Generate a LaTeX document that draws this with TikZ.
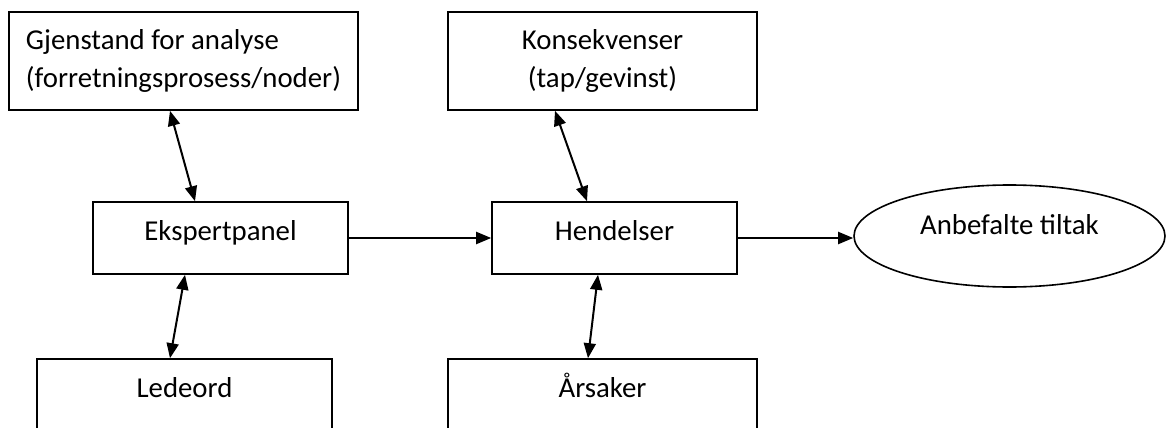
\documentclass[tikz,border=0pt]{standalone}
\usepackage{fontspec}
\setmainfont{Carlito}
\usetikzlibrary{shapes.geometric,arrows.meta,calc}

\begin{document}
\begin{tikzpicture}[x=1pt,y=-1pt,line width=2pt,>={Triangle[length=15pt,width=12pt]},font=\fontsize{28.8}{38}\selectfont]
  \tikzstyle{box}=[rectangle,draw,line width=1.6pt,inner sep=0pt,minimum height=72pt,text height=20pt,text depth=14.6pt]
  \tikzstyle{tallbox}=[rectangle,draw,line width=1.6pt,inner sep=0pt,minimum height=98pt]
  \tikzstyle{result}=[ellipse,draw,line width=1.6pt,inner sep=0pt,text height=20pt,text depth=24pt]

  \useasboundingbox (0,0) rectangle (1167,428);

  % top row
  \node[tallbox,minimum width=349pt,align=left] (gjen) at (183.5,61) {Gjenstand for analyse\\(forretningsprosess/noder)};
  \node[tallbox,minimum width=309pt,align=center] (kons) at (602.5,61) {Konsekvenser\\(tap/gevinst)};

  % middle row
  \node[box,minimum width=255pt] (eksp) at (220.5,238) {Ekspertpanel};
  \node[box,minimum width=245pt] (hend) at (614.5,238) {Hendelser};
  \node[result,minimum width=311pt,minimum height=102pt] (anb) at (1009.5,236) {Anbefalte tiltak};

  % bottom row
  \node[box,minimum width=295pt] (lede) at (184.5,395) {Ledeord};
  \node[box,minimum width=309pt] (ars) at (602.5,395) {Årsaker};

  \draw[<->] ($(gjen.south)+(-13.5,0)$) -- ($(eksp.north)+(-25.5,0)$);
  \draw[<->] ($(kons.south)+(-47.5,0)$) -- ($(hend.north)+(-27.5,0)$);
  \draw[<->] ($(eksp.south)+(-35.5,0)$) -- ($(lede.north)+(-14.5,0)$);
  \draw[<->] ($(hend.south)+(-16.5,0)$) -- ($(ars.north)+(-14.5,0)$);
  \draw[->] (eksp.east) -- (hend.west);
  \draw[->] (hend.east) -- (hend.east -| anb.west);

\end{tikzpicture}
\end{document}
